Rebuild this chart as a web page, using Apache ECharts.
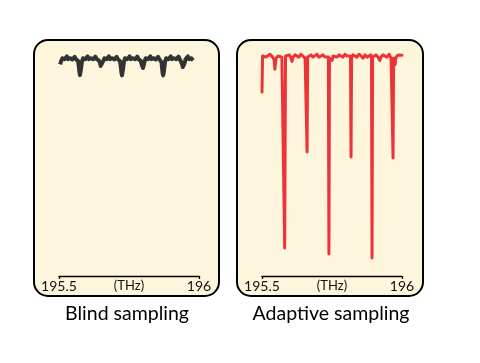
<!DOCTYPE html>
<html><head><meta charset="utf-8">
<script src="https://cdn.jsdelivr.net/npm/echarts@6/dist/echarts.min.js"></script>
<style>html,body{margin:0;padding:0;background:#fff}#c{width:480px;height:363px}</style>
</head><body><div id="c"></div>
<script>
// Frequency axis (THz)
var tickLabels = ['195.5', '196'];
var freqMin = 195.5, freqMax = 196;
var axisUnit = '(THz)';
var panelTitles = ['Blind sampling', 'Adaptive sampling'];

// Blind sampling trace: [frequency THz, normalized transmission]
var blindTrace = [
 [195.504,0.962],[195.508,0.978],[195.512,0.99],[195.516,0.996],[195.52,0.985],[195.524,0.993],
 [195.528,0.998],[195.532,0.986],[195.536,0.994],[195.54,0.99],[195.544,0.998],[195.548,0.984],
 [195.552,0.992],[195.556,0.996],[195.56,0.986],[195.564,0.99],[195.568,0.978],[195.571,0.95],
 [195.573,0.925],[195.575,0.913],[195.577,0.92],[195.579,0.945],[195.582,0.975],[195.586,0.99],
 [195.59,0.996],[195.594,0.985],[195.598,0.994],[195.602,0.998],[195.606,0.986],[195.61,0.993],
 [195.614,0.99],[195.618,0.998],[195.622,0.985],[195.626,0.993],[195.63,0.997],[195.634,0.986],
 [195.638,0.99],[195.642,0.98],[195.646,0.97],[195.649,0.955],[195.652,0.948],[195.655,0.96],
 [195.658,0.978],[195.662,0.99],[195.666,0.996],[195.67,0.985],[195.674,0.994],[195.678,0.998],
 [195.682,0.986],[195.686,0.993],[195.69,0.99],[195.694,0.998],[195.698,0.984],[195.702,0.992],
 [195.706,0.996],[195.71,0.986],[195.714,0.99],[195.718,0.976],[195.721,0.948],[195.723,0.924],
 [195.725,0.912],[195.727,0.92],[195.729,0.944],[195.732,0.974],[195.736,0.99],[195.74,0.996],
 [195.744,0.985],[195.748,0.994],[195.752,0.998],[195.756,0.986],[195.76,0.993],[195.764,0.99],
 [195.768,0.998],[195.772,0.985],[195.776,0.993],[195.78,0.997],[195.784,0.986],[195.788,0.99],
 [195.792,0.978],[195.796,0.958],[195.8,0.946],[195.803,0.96],[195.806,0.978],[195.81,0.99],
 [195.814,0.996],[195.818,0.985],[195.822,0.994],[195.826,0.998],[195.83,0.986],[195.834,0.993],
 [195.838,0.99],[195.842,0.998],[195.846,0.984],[195.85,0.992],[195.854,0.996],[195.858,0.986],
 [195.862,0.988],[195.866,0.972],[195.868,0.946],[195.87,0.922],[195.872,0.912],[195.874,0.922],
 [195.876,0.946],[195.879,0.975],[195.883,0.99],[195.887,0.996],[195.891,0.985],[195.895,0.994],
 [195.899,0.998],[195.903,0.986],[195.907,0.993],[195.911,0.99],[195.915,0.998],[195.919,0.985],
 [195.923,0.993],[195.927,0.997],[195.931,0.986],[195.935,0.985],[195.939,0.965],[195.942,0.95],
 [195.945,0.95],[195.948,0.965],[195.952,0.985],[195.956,0.994],[195.96,0.998],[195.964,0.986],
 [195.968,0.993],[195.972,0.99],[195.976,0.996],[195.979,0.98]
];

// Adaptive sampling trace: [frequency THz, normalized transmission]
var adaptiveTrace = [
 [195.5,0.836],[195.502,1.0],[195.507,1.005],[195.514,0.995],[195.521,1.0],[195.529,1.008],
 [195.536,0.998],[195.543,0.985],[195.546,0.94],[195.55,0.99],[195.557,1.0],[195.564,1.005],
 [195.571,0.995],[195.578,1.0],[195.581,0.127],[195.584,1.0],[195.591,0.995],[195.598,1.005],
 [195.604,0.99],[195.607,0.975],[195.611,0.995],[195.618,1.005],[195.625,1.0],[195.632,0.995],
 [195.639,1.008],[195.646,1.0],[195.654,0.99],[195.659,0.99],[195.661,0.564],[195.663,0.995],
 [195.668,1.0],[195.675,1.005],[195.682,0.995],[195.689,1.0],[195.696,1.008],[195.703,0.995],
 [195.71,1.0],[195.718,1.005],[195.725,0.995],[195.732,1.0],[195.737,0.995],[195.739,0.1],
 [195.741,0.99],[195.746,0.985],[195.75,0.98],[195.754,1.0],[195.761,1.005],[195.768,0.995],
 [195.775,1.005],[195.782,1.0],[195.789,0.995],[195.796,1.008],[195.804,1.0],[195.811,0.995],
 [195.816,1.0],[195.818,0.541],[195.82,0.995],[195.825,1.005],[195.832,1.0],[195.839,0.995],
 [195.846,1.008],[195.854,1.0],[195.861,0.99],[195.868,1.005],[195.875,0.995],[195.882,1.0],
 [195.889,1.005],[195.891,0.99],[195.893,0.082],[195.895,0.995],[195.9,1.0],[195.907,1.005],
 [195.914,0.995],[195.921,0.98],[195.925,0.995],[195.932,1.005],[195.939,1.0],[195.946,0.995],
 [195.954,1.008],[195.961,0.99],[195.966,0.995],[195.968,0.536],[195.97,0.99],[195.975,0.96],
 [195.979,0.995],[195.986,1.005],[195.993,1.0],[196.0,1.003]
];

var chart = echarts.init(document.getElementById('c'), null, {renderer:'canvas'});
var FONT = 'Lato';
function xAxisCfg(idx){
  return {
    type:'value', gridIndex:idx, min:freqMin, max:freqMax, interval:freqMax-freqMin,
    name:axisUnit, nameLocation:'middle', nameGap:3, nameMoveOverlap:false,
    nameTextStyle:{fontFamily:FONT, fontSize:13, color:'#111', verticalAlign:'top'},
    axisLine:{show:true, lineStyle:{color:'#000', width:1.3}},
    axisTick:{show:true, length:3, lineStyle:{color:'#000', width:1.3}},
    axisLabel:{margin:3, fontFamily:FONT, fontSize:14, color:'#111',
      formatter:function(v){ return Math.abs(v-freqMin)<1e-9 ? tickLabels[0] : tickLabels[1]; }},
    splitLine:{show:false}
  };
}
function yAxisCfg(idx){
  return {type:'value', gridIndex:idx, min:0, max:1.1, show:false, splitLine:{show:false}};
}
chart.setOption({
  backgroundColor:'#ffffff',
  animation:false,
  graphic:[
    {type:'rect', z:0, shape:{x:34, y:40, width:185, height:256, r:14},
     style:{fill:'#FEF6DC', stroke:'#000', lineWidth:2}},
    {type:'rect', z:0, shape:{x:237, y:40, width:186, height:256, r:14},
     style:{fill:'#FEF6DC', stroke:'#000', lineWidth:2}},
    {type:'text', z:5, x:127, y:314, style:{text:panelTitles[0], fontFamily:FONT, fontSize:19.5,
      fill:'#000', textAlign:'center', textVerticalAlign:'middle'}},
    {type:'text', z:5, x:331, y:314, style:{text:panelTitles[1], fontFamily:FONT, fontSize:19.5,
      fill:'#000', textAlign:'center', textVerticalAlign:'middle'}}
  ],
  grid:[
    {left:59, width:140, top:34, height:242},
    {left:262, width:140, top:34, height:242}
  ],
  xAxis:[xAxisCfg(0), xAxisCfg(1)],
  yAxis:[yAxisCfg(0), yAxisCfg(1)],
  series:[
    {type:'line', xAxisIndex:0, yAxisIndex:0, data:blindTrace, showSymbol:false, symbol:'none',
     lineStyle:{color:'#333333', width:4, join:'round'}, z:3},
    {type:'line', xAxisIndex:1, yAxisIndex:1, data:adaptiveTrace, showSymbol:false, symbol:'none',
     lineStyle:{color:'#EE3338', width:3, join:'round', cap:'round'}, z:3}
  ]
});
</script></body></html>
